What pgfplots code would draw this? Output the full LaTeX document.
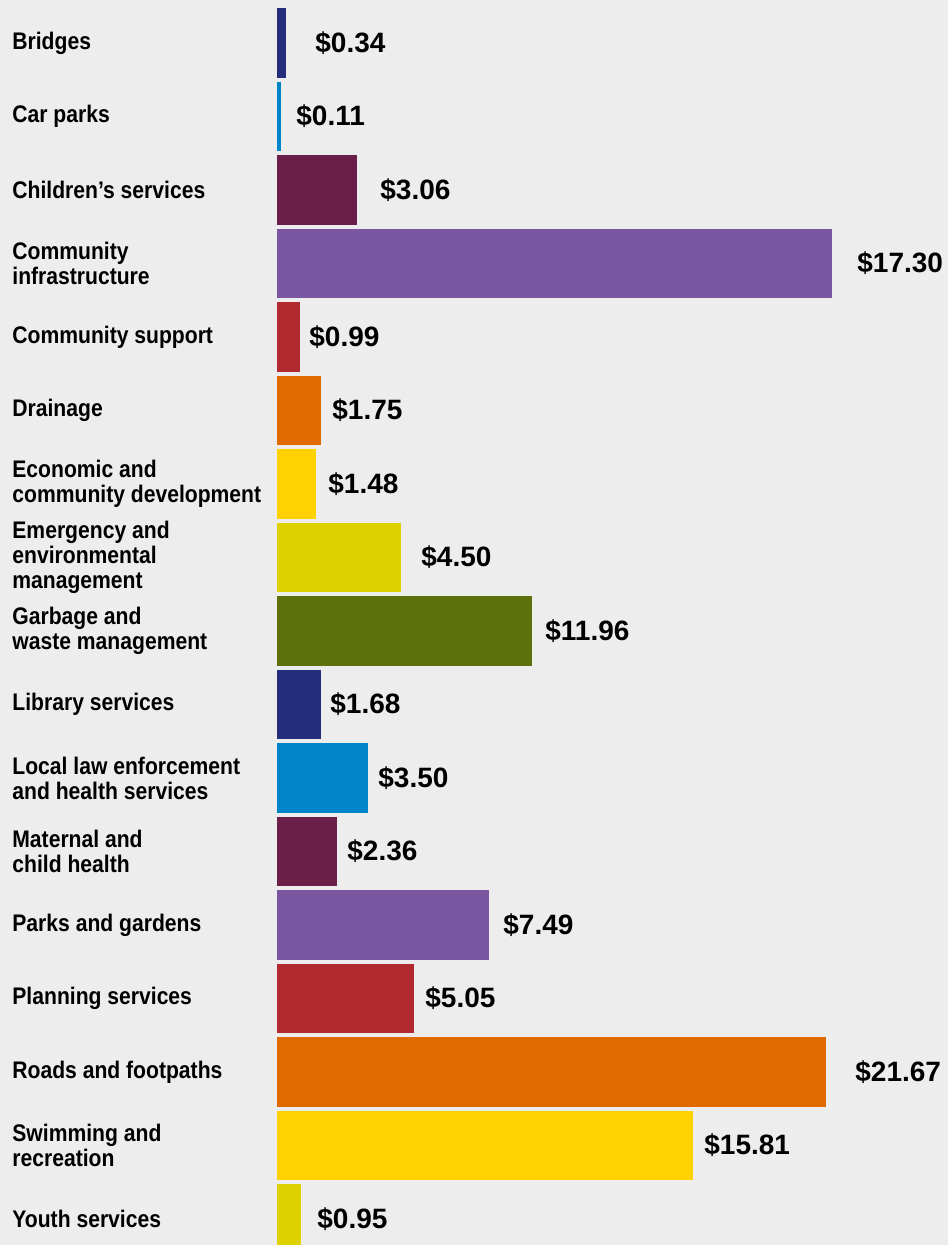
\documentclass[border=0pt]{standalone}
\usepackage{fontspec}
\setmainfont{Liberation Sans}
\newfontfamily\catfont{Liberation Sans}[FakeStretch=0.88]
\usepackage{pgfplots}
\pgfplotsset{compat=1.18}
\definecolor{bgc}{HTML}{EDEDED}
\definecolor{cnavy}{HTML}{232D7C}
\definecolor{cblue}{HTML}{0085C8}
\definecolor{cmaroon}{HTML}{6A1F48}
\definecolor{cpurple}{HTML}{7B56A1}
\definecolor{cred}{HTML}{B22A2F}
\definecolor{corange}{HTML}{E06A00}
\definecolor{cyellow}{HTML}{FFD100}
\definecolor{colive}{HTML}{DDD200}
\definecolor{cgreen}{HTML}{5C700C}
\pgfplotsset{mybar/.style={xbar, bar shift=0pt, bar width=0.952, draw=none, fill=#1}}
\begin{document}
\begin{tikzpicture}
\begin{axis}[
  scale only axis, width=474pt, height=622.5pt,
  xmin=-277, xmax=671, ymin=-0.585, ymax=16.354, y dir=reverse,
  axis background/.style={fill=bgc},
  axis line style={draw=none}, tick style={draw=none},
  xtick=\empty,
  ytick={0,...,16},
  yticklabels={Bridges, Car parks, Children’s services, {Community\\infrastructure}, Community support, Drainage, {Economic and\\community development}, {Emergency and\\environmental\\management}, {Garbage and\\waste management}, Library services, {Local law enforcement\\and health services}, {Maternal and\\child health}, Parks and gardens, Planning services, Roads and footpaths, {Swimming and\\recreation}, Youth services},
  yticklabel style={anchor=west, align=left, xshift=6pt, inner sep=0pt, font=\catfont\bfseries\fontsize{12}{12.5}\selectfont},
  clip=true,
]
\addplot[mybar=cnavy] coordinates {(9,0)};
\addplot[mybar=cblue] coordinates {(4,1)};
\addplot[mybar=cmaroon] coordinates {(80,2)};
\addplot[mybar=cpurple] coordinates {(555,3)};
\addplot[mybar=cred] coordinates {(23,4)};
\addplot[mybar=corange] coordinates {(44,5)};
\addplot[mybar=cyellow] coordinates {(39,6)};
\addplot[mybar=colive] coordinates {(124,7)};
\addplot[mybar=cgreen] coordinates {(255,8)};
\addplot[mybar=cnavy] coordinates {(44,9)};
\addplot[mybar=cblue] coordinates {(91,10)};
\addplot[mybar=cmaroon] coordinates {(60,11)};
\addplot[mybar=cpurple] coordinates {(212,12)};
\addplot[mybar=cred] coordinates {(137,13)};
\addplot[mybar=corange] coordinates {(549,14)};
\addplot[mybar=cyellow] coordinates {(416,15)};
\addplot[mybar=colive] coordinates {(24,16)};
% value labels
\addplot[xbar, bar shift=0pt, bar width=0.952, draw=none, fill=none,
  point meta=explicit symbolic,
  nodes near coords={\$\pgfplotspointmeta},
  nodes near coords style={anchor=west, inner sep=0pt, font=\bfseries\fontsize{14}{14}\selectfont}]
  coordinates {
  (38,0) [0.34]
  (19,1) [0.11]
  (103,2) [3.06]
  (580,3) [17.30]
  (32,4) [0.99]
  (55,5) [1.75]
  (51,6) [1.48]
  (144,7) [4.50]
  (268,8) [11.96]
  (53,9) [1.68]
  (101,10) [3.50]
  (70,11) [2.36]
  (226,12) [7.49]
  (148,13) [5.05]
  (578,14) [21.67]
  (427,15) [15.81]
  (40,16) [0.95]
  };
\end{axis}
\end{tikzpicture}
\end{document}
